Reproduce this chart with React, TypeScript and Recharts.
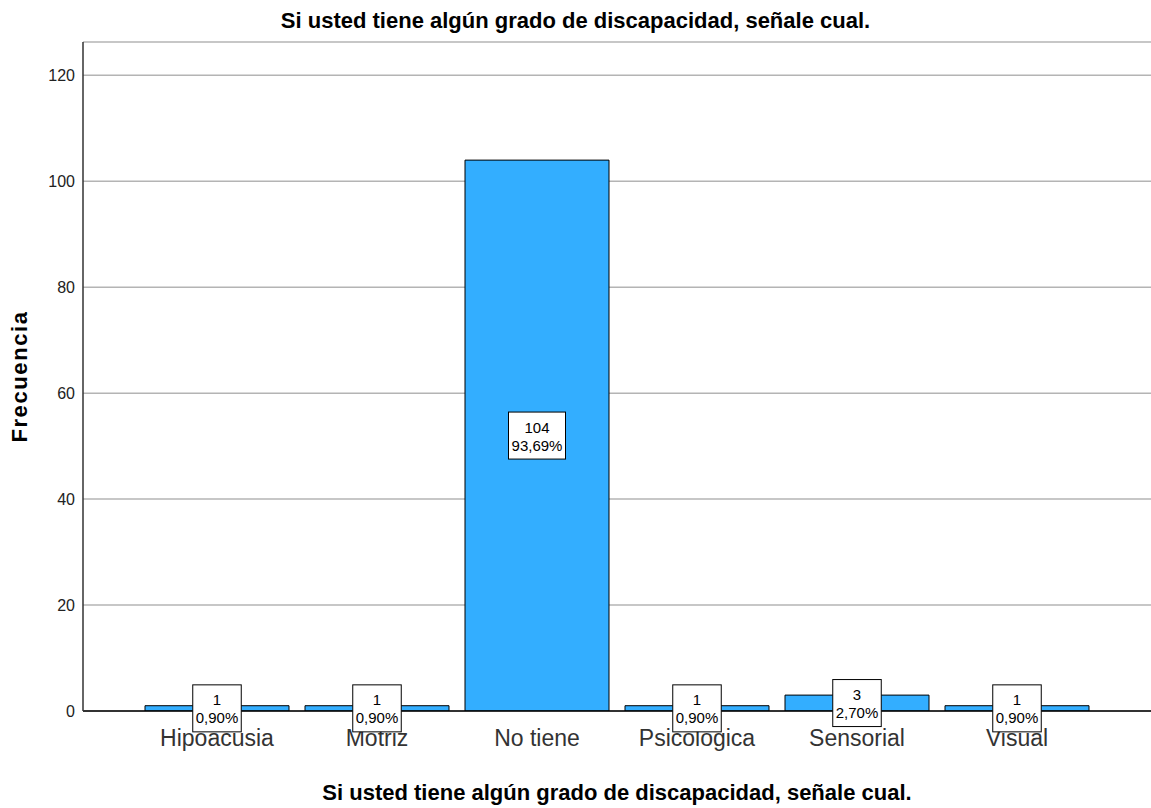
import React from 'react';
import { BarChart, Bar, XAxis, YAxis, CartesianGrid, LabelList } from 'recharts';

const categories = ['Hipoacusia', 'Motriz', 'No tiene', 'Psicologica', 'Sensorial', 'Visual'];
const frequencies = [1, 1, 104, 1, 3, 1];
const percentages = ['0,90%', '0,90%', '93,69%', '0,90%', '2,70%', '0,90%'];
const yTicks = [0, 20, 40, 60, 80, 100, 120];

const TITLE = 'Si usted tiene algún grado de discapacidad, señale cual.';
const SANS = '"Liberation Sans", Arial, sans-serif';

const data = categories.map((c, i) => ({ name: c, value: frequencies[i], pct: percentages[i] }));

const BoxLabel = (props: any) => {
  const { x, y, width, height, index } = props;
  const cx = x + width / 2;
  const cy = y + height / 2;
  const v = String(frequencies[index]);
  const p = percentages[index];
  const bw = Math.max(v.length, p.length) * 8.5 + 6;
  const bh = 47;
  return (
    <g>
      <rect x={cx - bw / 2} y={cy - bh / 2} width={bw} height={bh} fill="#fff" stroke="#000" strokeWidth={1} />
      <text x={cx} y={cy - 3} textAnchor="middle" fontFamily={SANS} fontSize={15} fill="#000">{v}</text>
      <text x={cx} y={cy + 15} textAnchor="middle" fontFamily={SANS} fontSize={15} fill="#000">{p}</text>
    </g>
  );
};

const XTick = (props: any) => {
  const { x, y, payload } = props;
  return (
    <text x={x} y={y + 35} textAnchor="middle" fontFamily={SANS} fontSize={23} fill="#333">
      {payload.value}
    </text>
  );
};

const YTick = (props: any) => {
  const { x, y, payload } = props;
  return (
    <text x={x} y={y + 6} textAnchor="end" fontFamily={SANS} fontSize={16} fill="#222">
      {payload.value}
    </text>
  );
};

const YLabel = (props: any) => {
  const vb = props.viewBox || {};
  const x = 27;
  const y = (vb.y ?? 42) + (vb.height ?? 669) / 2;
  return (
    <text x={x} y={y} transform={`rotate(-90, ${x}, ${y})`} textAnchor="middle" fontFamily={SANS} fontWeight="bold" fontSize={22} letterSpacing={1.6} fill="#000">
      Frecuencia
    </text>
  );
};

const XLabel = (props: any) => {
  const vb = props.viewBox || {};
  const x = (vb.x ?? 83) + (vb.width ?? 1068) / 2;
  return (
    <text x={x} y={800} textAnchor="middle" fontFamily={SANS} fontWeight="bold" fontSize={22} fill="#000">
      {TITLE}
    </text>
  );
};

export default function App() {
  return (
    <div style={{ position: 'absolute', left: 0, top: 0, width: 1151, height: 808, background: '#fff' }}>
      <div
        style={{
          position: 'absolute',
          left: 0,
          width: 1151,
          top: 8,
          textAlign: 'center',
          fontFamily: SANS,
          fontWeight: 'bold',
          fontSize: 22,
          lineHeight: '26px',
          color: '#000',
        }}
      >
        {TITLE}
      </div>
      <BarChart
        width={1151}
        height={808}
        data={data}
        margin={{ top: 42, right: 0, left: 0, bottom: 0 }}
        barCategoryGap="5%"
      >
        <CartesianGrid horizontal vertical={false} stroke="#b4b4b4" strokeWidth={1.5} />
        <XAxis
          dataKey="name"
          padding={{ left: 54, right: 54 }}
          tickLine={false}
          tickSize={0}
          tickMargin={0}
          tick={<XTick />}
          axisLine={{ stroke: '#000', strokeWidth: 1.5 }}
          interval={0}
          height={97}
          label={<XLabel />}
        />
        <YAxis
          width={83}
          domain={[0, 126.3]}
          ticks={yTicks}
          tickLine={false}
          tickSize={0}
          tickMargin={8}
          tick={<YTick />}
          axisLine={{ stroke: '#333', strokeWidth: 1.5 }}
          allowDataOverflow
          label={<YLabel />}
        />
        <Bar dataKey="value" fill="#33aeff" stroke="#000" strokeWidth={1} isAnimationActive={false}>
          <LabelList dataKey="value" content={<BoxLabel />} />
        </Bar>
      </BarChart>
    </div>
  );
}
